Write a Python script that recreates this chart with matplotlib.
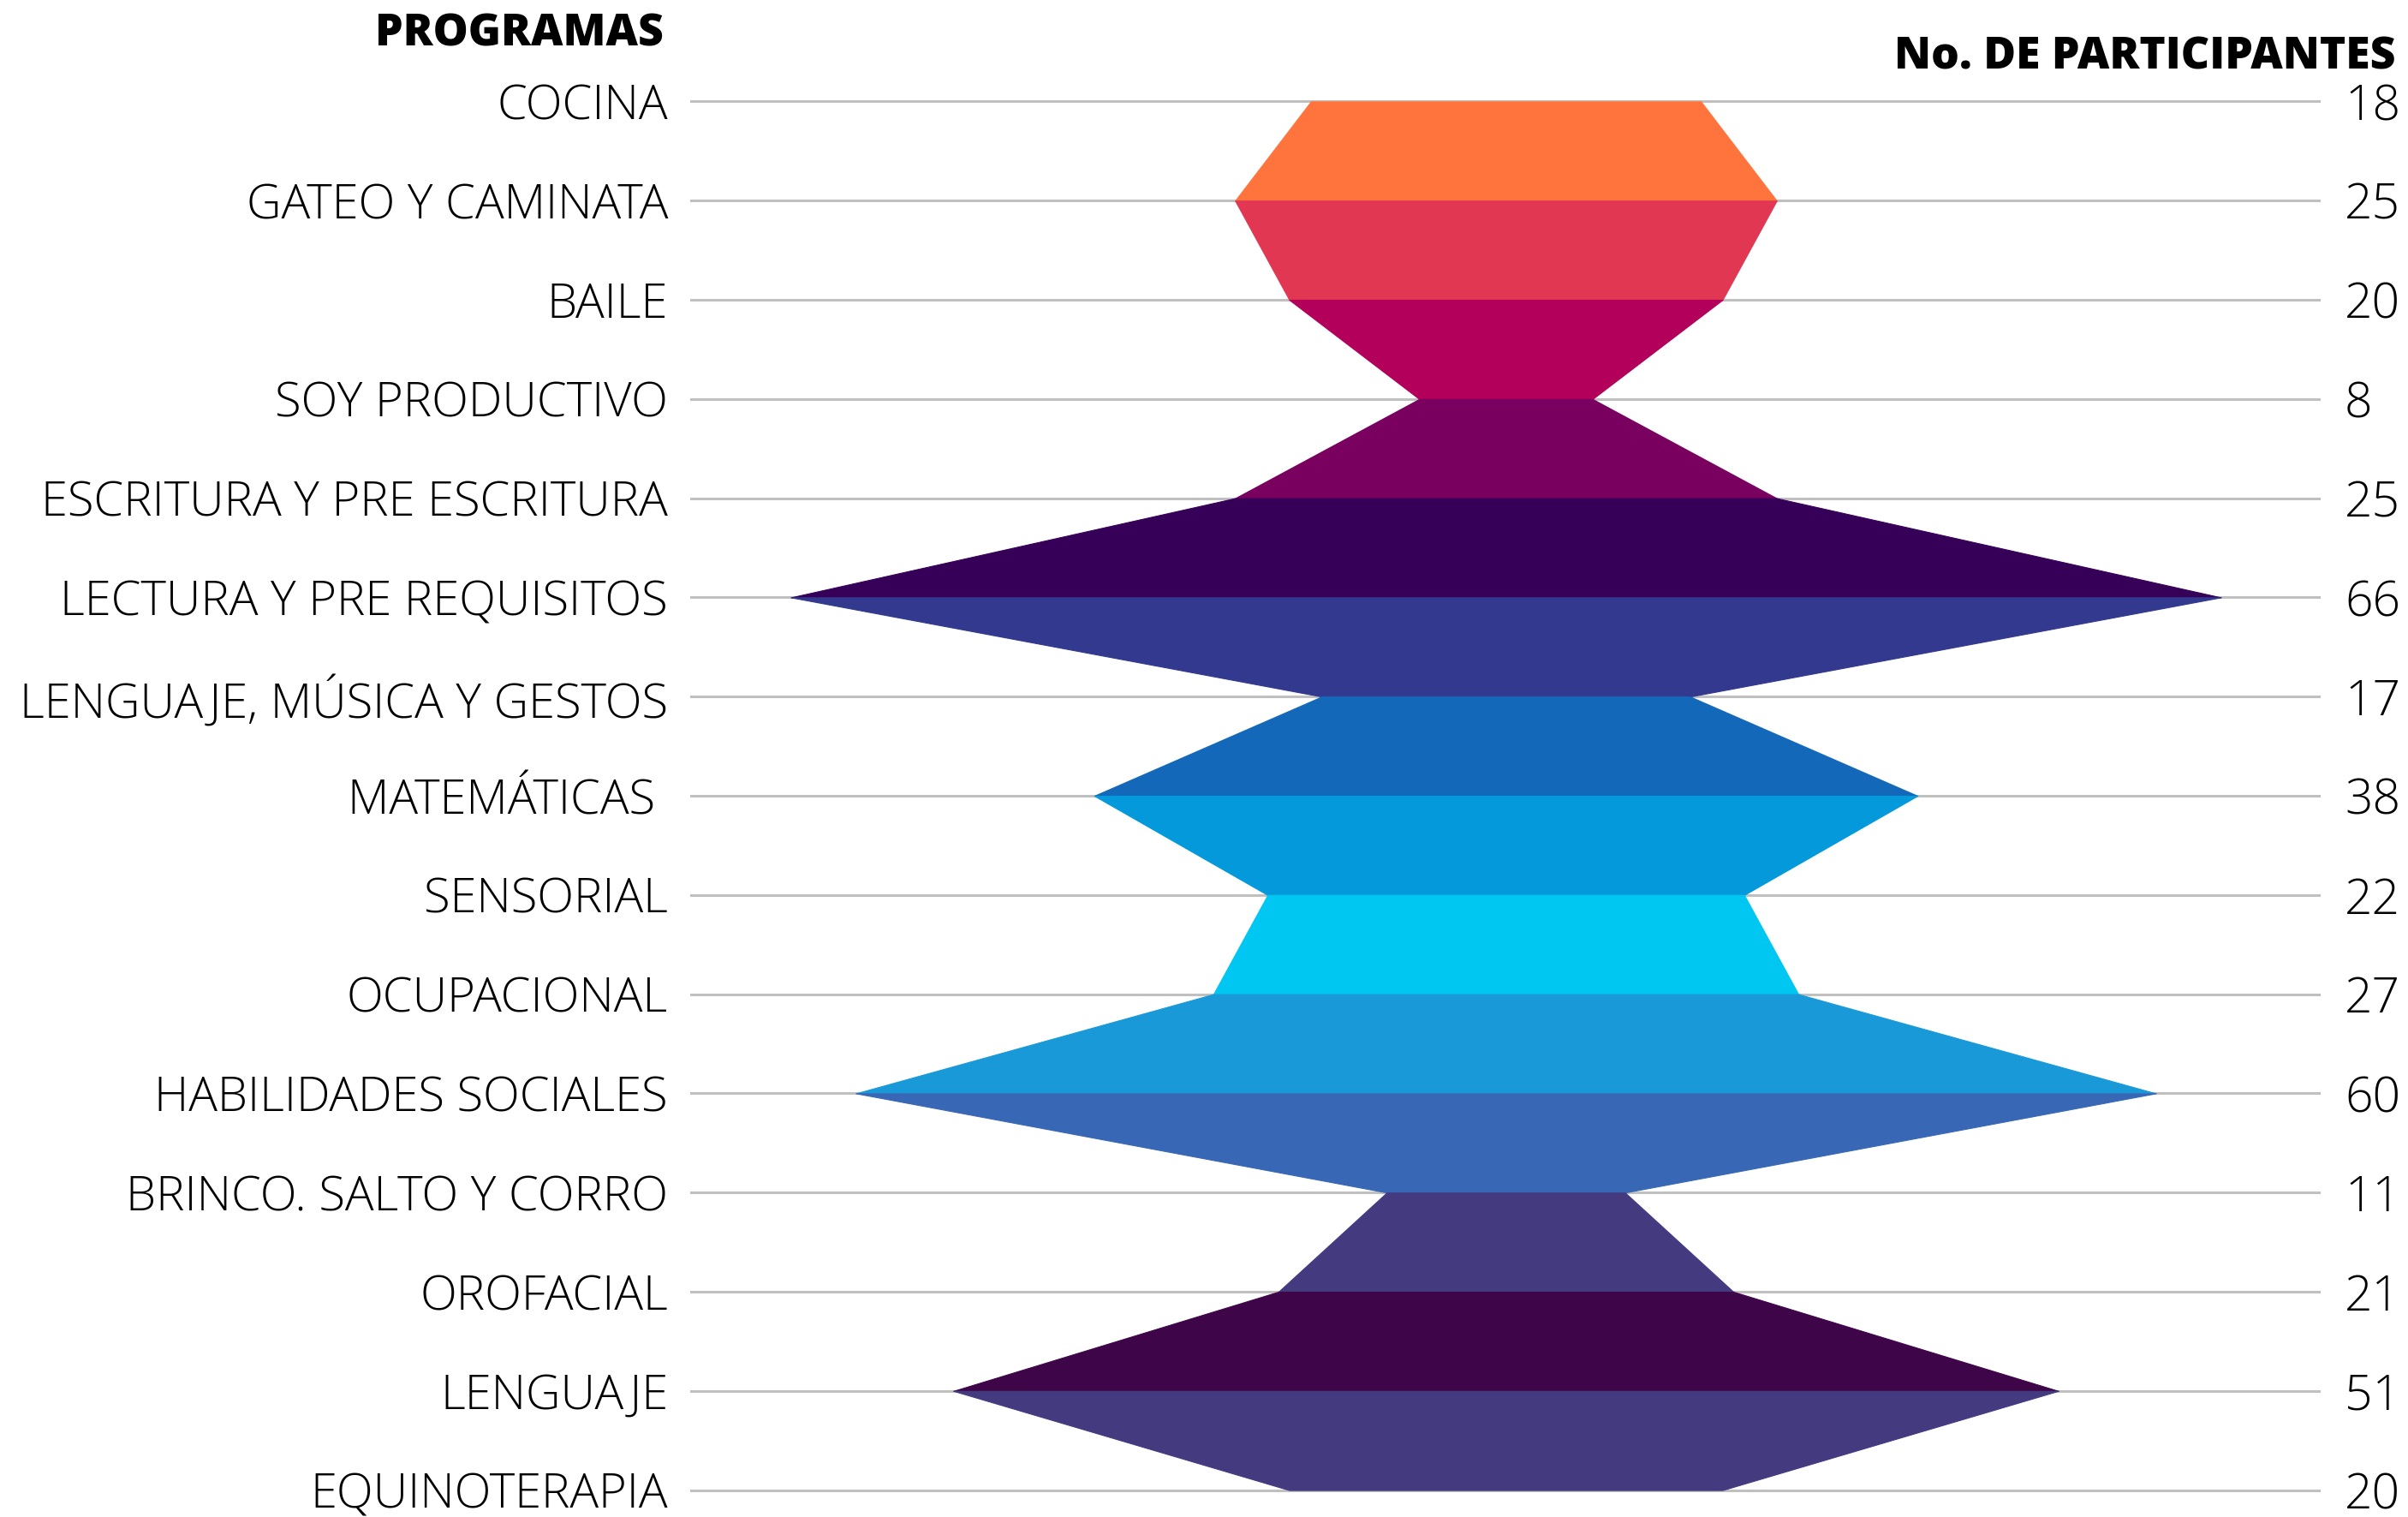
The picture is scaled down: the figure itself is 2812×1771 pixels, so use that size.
import matplotlib
matplotlib.use("Agg")
import matplotlib.pyplot as plt
import matplotlib.transforms as mtransforms

programas = ["COCINA", "GATEO Y CAMINATA", "BAILE", "SOY PRODUCTIVO",
             "ESCRITURA Y PRE ESCRITURA", "LECTURA Y PRE REQUISITOS",
             "LENGUAJE, MÚSICA Y GESTOS", "MATEMÁTICAS ", "SENSORIAL",
             "OCUPACIONAL", "HABILIDADES SOCIALES", "BRINCO. SALTO Y CORRO",
             "OROFACIAL", "LENGUAJE", "EQUINOTERAPIA"]
participantes = [18, 25, 20, 8, 25, 66, 17, 38, 22, 27, 60, 11, 21, 51, 20]
colores = ["#FF743C", "#E23752", "#B3005A", "#7A005F", "#360058", "#32398E",
           "#1368BA", "#0399DA", "#00C6F2", "#1A99D9", "#3868B5", "#443A80",
           "#3E0548", "#443A80"]

W, H, DPI = 2812, 1771, 200
fig = plt.figure(figsize=(W / DPI, H / DPI), dpi=DPI)
ax = fig.add_axes([0, 0, 1, 1])
ax.set_axis_off()

n = len(programas)
# scale: pixels per participant (half-width)
ppu = 12.65
cx = 1758.5
ax.set_xlim(-cx / ppu, (W - cx) / ppu)
top_px, bot_px = 118.4, 1739.6
step = (bot_px - top_px) / (n - 1)
ax.set_ylim(n - 1 + (H - bot_px) / step, -top_px / step)

for i in range(n):
    ax.axhline(i, xmin=807 / W, xmax=2708 / W, color="#C0C0C0", lw=1.1, zorder=0)

for i in range(n - 1):
    ys = [i, i + 1]
    a, b = participantes[i], participantes[i + 1]
    ax.fill_betweenx(ys, [-a, -b], [a, b], color=colores[i], lw=0.4,
                     edgecolor=colores[i], zorder=2)

trans = mtransforms.blended_transform_factory(ax.transAxes, ax.transData)
font = "Open Sans"
for i, (p, v) in enumerate(zip(programas, participantes)):
    ax.text(780 / W, i, p, transform=trans, ha="right", va="center_baseline",
            fontsize=20.2, fontfamily=font, fontweight="light", color="black")
    ax.text(2738 / W, i, str(v), transform=trans, ha="left", va="center_baseline",
            fontsize=20.5, fontfamily=font, fontweight="light", color="black")

fig.text(775 / W, 1 - 40 / H, "PROGRAMAS", ha="right", va="center",
         fontsize=18.6, fontfamily=font, fontweight="heavy", color="black")
fig.text(2798 / W, 1 - 67 / H, "No. DE PARTICIPANTES", ha="right", va="center",
         fontsize=18.6, fontfamily=font, fontweight="heavy", color="black")

fig.savefig("out.png", dpi=DPI, facecolor="white")
